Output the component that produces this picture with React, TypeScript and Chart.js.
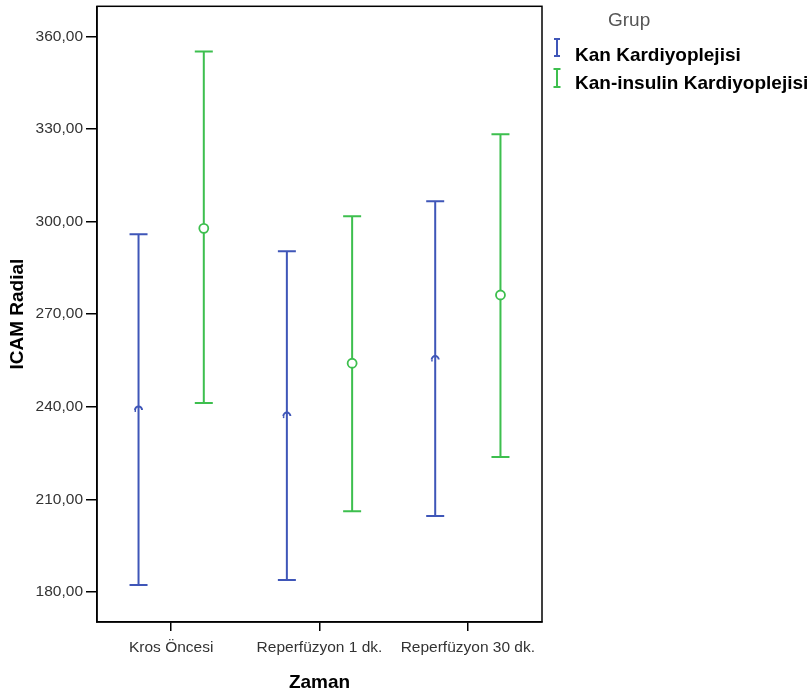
import React, { useEffect, useRef } from "react";
import { Chart, registerables } from "chart.js";

Chart.register(...registerables);

const categories = ["Kros Öncesi", "Reperfüzyon 1 dk.", "Reperfüzyon 30 dk."];
const seriesNames = ["Kan Kardiyoplejisi", "Kan-insulin Kardiyoplejisi"];
const kanMean = [239.3, 237.3, 255.6];
const kanLow = [182.3, 183.9, 204.6];
const kanHigh = [295.9, 290.4, 306.6];
const insMean = [297.8, 254.1, 276.2];
const insLow = [241.2, 206.2, 223.7];
const insHigh = [355.1, 301.7, 328.3];
const yTicks = [180, 210, 240, 270, 300, 330, 360];
const yMin = 170.3;
const yMax = 369.7;

const BLUE = "#3f56b8";
const GREEN = "#3dbf4e";
const FONT = "'Liberation Sans', Arial, sans-serif";
const GROUP_OFFSET = 0.22;

const errorBarPlugin = {
  id: "errorBars",
  beforeDatasetsDraw(chart: any) {
    const ctx = chart.ctx;
    const xs = chart.scales.x;
    const ys = chart.scales.y;
    chart.data.datasets.forEach((ds: any) => {
      ctx.save();
      ctx.strokeStyle = ds.borderColor;
      ctx.lineWidth = 2;
      ds.data.forEach((pt: any, i: number) => {
        const x = xs.getPixelForValue(pt.x);
        const yl = ys.getPixelForValue(ds.low[i]);
        const yh = ys.getPixelForValue(ds.high[i]);
        const cap = 9;
        ctx.beginPath();
        ctx.moveTo(x, yl);
        ctx.lineTo(x, yh);
        ctx.moveTo(x - cap, yl);
        ctx.lineTo(x + cap, yl);
        ctx.moveTo(x - cap, yh);
        ctx.lineTo(x + cap, yh);
        ctx.stroke();
      });
      ctx.restore();
    });
  },
  afterDatasetsDraw(chart: any) {
    const ctx = chart.ctx;
    const xs = chart.scales.x;
    const ys = chart.scales.y;
    const ds = chart.data.datasets[0];
    ctx.save();
    ctx.strokeStyle = ds.borderColor;
    ctx.lineWidth = 2;
    ds.data.forEach((pt: any) => {
      const x = xs.getPixelForValue(pt.x);
      const y = ys.getPixelForValue(pt.y);
      ctx.beginPath();
      ctx.arc(x, y + 1, 3.5, Math.PI, 2 * Math.PI);
      ctx.stroke();
      ctx.beginPath();
      ctx.moveTo(x - 4, y + 2);
      ctx.lineTo(x - 2.5, y + 2);
      ctx.stroke();
    });
    ctx.restore();
  },
  afterDraw(chart: any) {
    const ctx = chart.ctx;
    const a = chart.chartArea;
    ctx.save();
    ctx.strokeStyle = "#000";
    ctx.lineWidth = 1.5;
    ctx.strokeRect(a.left, a.top, a.right - a.left, a.bottom - a.top);

    // legend
    ctx.fillStyle = "#555";
    ctx.font = `19px ${FONT}`;
    ctx.textBaseline = "middle";
    ctx.textAlign = "left";
    ctx.fillText("Grup", 608, 21);
    ctx.textBaseline = "alphabetic";
    const items = [
      { color: BLUE, y: 61, top: 39, bottom: 56, cap: 3 },
      { color: GREEN, y: 89, top: 69, bottom: 87, cap: 3.5 },
    ];
    items.forEach((it, i) => {
      ctx.strokeStyle = it.color;
      ctx.lineWidth = 2;
      ctx.beginPath();
      ctx.moveTo(557, it.top);
      ctx.lineTo(557, it.bottom);
      ctx.moveTo(557 - it.cap, it.top);
      ctx.lineTo(557 + it.cap, it.top);
      ctx.moveTo(557 - it.cap, it.bottom);
      ctx.lineTo(557 + it.cap, it.bottom);
      ctx.stroke();
      ctx.fillStyle = "#000";
      ctx.font = `bold 19px ${FONT}`;
      ctx.fillText(seriesNames[i], 575, it.y);
    });
    ctx.restore();
  },
};

export default function App() {
  const ref = useRef<HTMLCanvasElement>(null);
  useEffect(() => {
    if (!ref.current) return;
    const chart = new Chart(ref.current, {
      type: "scatter",
      data: {
        datasets: [
          {
            label: seriesNames[0],
            data: kanMean.map((v, i) => ({ x: i - GROUP_OFFSET, y: v })),
            low: kanLow,
            high: kanHigh,
            borderColor: BLUE,
            backgroundColor: BLUE,
            pointRadius: 0,
          } as any,
          {
            label: seriesNames[1],
            data: insMean.map((v, i) => ({ x: i + GROUP_OFFSET, y: v })),
            low: insLow,
            high: insHigh,
            borderColor: GREEN,
            backgroundColor: "#ffffff",
            pointRadius: 4.5,
            pointBorderWidth: 1.8,
            pointStyle: "circle",
          } as any,
        ],
      },
      options: {
        animation: false,
        responsive: false,
        layout: { padding: { top: 6, right: 270, left: 0, bottom: 0 } },
        plugins: {
          legend: { display: false },
          tooltip: { enabled: false },
        },
        scales: {
          x: {
            type: "linear",
            min: -0.5,
            max: 2.5,
            afterBuildTicks: (scale: any) => {
              scale.ticks = categories.map((_, i) => ({ value: i }));
            },
            afterFit: (scale: any) => {
              scale.height = 73;
              scale.paddingLeft = 0;
              scale.paddingRight = 0;
            },
            ticks: {
              callback: (v: any) => categories[Math.round(Number(v))] ?? "",
              color: "#333",
              font: { family: FONT, size: 15.5 },
              padding: 7,
              maxRotation: 0,
            },
            grid: {
              drawOnChartArea: false,
              drawTicks: true,
              tickLength: 9,
              color: "#000",
              lineWidth: 1.5,
            },
            border: { display: true, color: "#000", width: 1.5 },
            title: {
              display: true,
              text: "Zaman",
              color: "#000",
              font: { family: FONT, size: 19, weight: "bold" },
              padding: { top: 4, bottom: 1 },
            },
          },
          y: {
            type: "linear",
            min: yMin,
            max: yMax,
            afterBuildTicks: (scale: any) => {
              scale.ticks = yTicks.map((v) => ({ value: v }));
            },
            afterFit: (scale: any) => {
              scale.width = 97;
              scale.paddingTop = 0;
              scale.paddingBottom = 0;
            },
            ticks: {
              callback: (v: any) => Number(v).toFixed(2).replace(".", ","),
              color: "#333",
              font: { family: FONT, size: 15.5 },
              padding: 3,
            },
            grid: {
              drawOnChartArea: false,
              drawTicks: true,
              tickLength: 11,
              color: "#000",
              lineWidth: 1.5,
            },
            border: { display: true, color: "#000", width: 1.5 },
            title: {
              display: true,
              text: "ICAM Radial",
              color: "#000",
              font: { family: FONT, size: 19, weight: "bold" },
              padding: { top: 6, bottom: 4 },
            },
          },
        },
      },
      plugins: [errorBarPlugin],
    } as any);
    return () => chart.destroy();
  }, []);
  return (
    <div style={{ position: "absolute", left: 0, top: 0, width: 812, height: 695, background: "#fff" }}>
      <canvas ref={ref} width={812} height={695} style={{ display: "block" }} />
    </div>
  );
}
